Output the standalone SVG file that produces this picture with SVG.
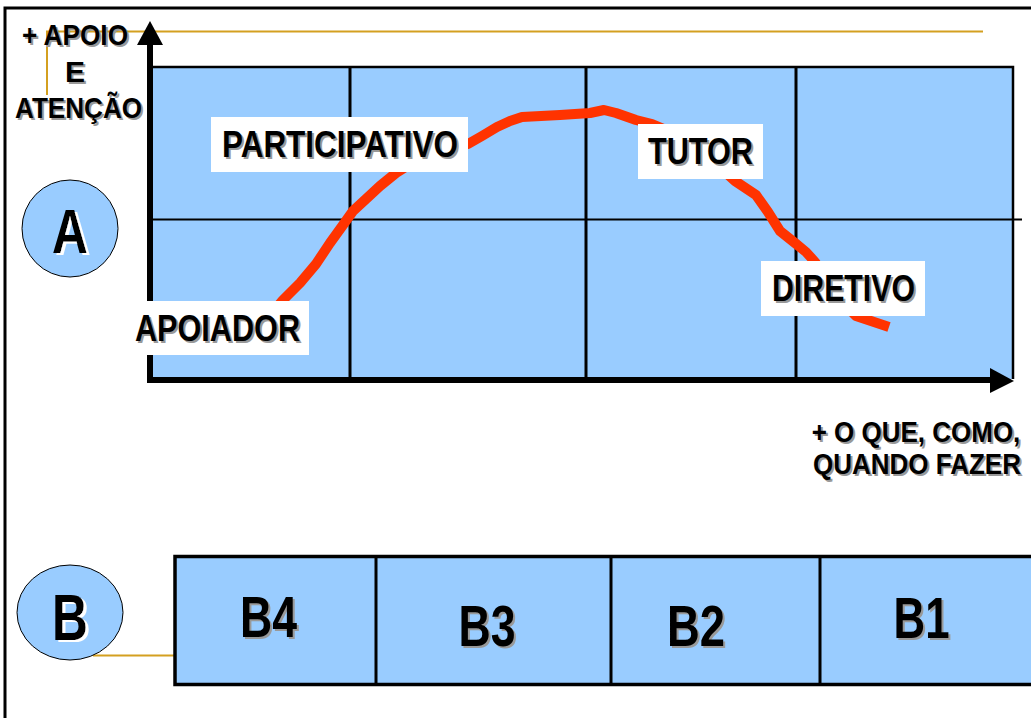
<svg xmlns="http://www.w3.org/2000/svg" width="1031" height="718" viewBox="0 0 1031 718">
<defs>
<filter id="ws" x="-20%" y="-20%" width="150%" height="150%">
<feDropShadow dx="3" dy="2" stdDeviation="0.3" flood-color="#ffffff" flood-opacity="1"/>
</filter>
</defs>
<style>
.t{font-family:"Liberation Sans",Arial,sans-serif;font-weight:bold;text-anchor:middle;fill:#000}
.sh{fill:#999999}
.w{filter:url(#ws)}
.gold{stroke:#D4A020;stroke-width:2;fill:none}
.grid{stroke:#000;fill:none}
.box{fill:#fff}
.blue{fill:#99CCFF}
</style>
<rect width="1031" height="718" fill="#fff"/>
<g id="frame">
<path d="M5,718 V8 H1031" stroke="#000" stroke-width="3" fill="none"/>
</g>
<g id="guides">
<path class="gold" d="M47,95 V31.5 H983"/>
<path class="gold" d="M93,655.5 H175"/>
</g>
<g id="chart">
<rect class="blue" x="152" y="67" width="861" height="312"/>
<path class="grid" stroke-width="2.5" d="M150,67 H1013 V379"/>
<path class="grid" stroke-width="2" d="M150,219.5 H1022"/>
<path class="grid" stroke-width="3" d="M350,67 V379 M586,67 V379 M796,67 V379"/>
</g>
<g id="curve">
<polyline points="268,318 283,300 300,283 316,264 330,243 343,225 353,211 366,199 380,186 396,173 415,161 440,152 468,144 482,136 497,127 510,121 522,117 560,115 590,113 604,110 616,113 636,120 652,124 690,140 735,181 756,195 768,212 780,231 795,243 806,252 815,262 840,300 856,316 889,327" fill="none" stroke="#FF3300" stroke-width="10" stroke-linejoin="round"/>
</g>
<g id="axes">
<line x1="150" y1="40" x2="150" y2="383" stroke="#000" stroke-width="6"/>
<polygon points="150,21 163,45 137,45" fill="#000"/>
<line x1="147" y1="380" x2="992" y2="380" stroke="#000" stroke-width="6"/>
<polygon points="1014,381 990,368 990,393" fill="#000"/>
</g>
<g id="label-participativo">
<rect class="box" x="211" y="117" width="257" height="55"/>
<text class="t sh" x="342" y="159" font-size="36" textLength="236" lengthAdjust="spacingAndGlyphs">PARTICIPATIVO</text>
<text class="t" x="340" y="157" font-size="36" textLength="236" lengthAdjust="spacingAndGlyphs">PARTICIPATIVO</text>
</g>
<g id="label-tutor">
<rect class="box" x="638" y="124" width="125" height="55"/>
<text class="t sh" x="702.5" y="166" font-size="36" textLength="105" lengthAdjust="spacingAndGlyphs">TUTOR</text>
<text class="t" x="700.5" y="164" font-size="36" textLength="105" lengthAdjust="spacingAndGlyphs">TUTOR</text>
</g>
<g id="label-diretivo">
<rect class="box" x="761" y="261" width="164" height="55"/>
<text class="t sh" x="845.5" y="303" font-size="36" textLength="143" lengthAdjust="spacingAndGlyphs">DIRETIVO</text>
<text class="t" x="843.5" y="301" font-size="36" textLength="143" lengthAdjust="spacingAndGlyphs">DIRETIVO</text>
</g>
<g id="label-apoiador">
<rect class="box" x="128" y="301" width="181" height="54"/>
<text class="t sh" x="219.5" y="343" font-size="36" textLength="165" lengthAdjust="spacingAndGlyphs">APOIADOR</text>
<text class="t" x="217.5" y="341" font-size="36" textLength="165" lengthAdjust="spacingAndGlyphs">APOIADOR</text>
</g>
<g id="y-label">
<text class="t sh" x="77" y="47" font-size="30" textLength="106" lengthAdjust="spacingAndGlyphs">+ APOIO</text>
<text class="t" x="75" y="45" font-size="30" textLength="106" lengthAdjust="spacingAndGlyphs">+ APOIO</text>
<text class="t sh" x="77" y="84" font-size="30">E</text>
<text class="t" x="75" y="82" font-size="30">E</text>
<text class="t sh" x="80.5" y="120" font-size="30" textLength="127" lengthAdjust="spacingAndGlyphs">ATENÇÃO</text>
<text class="t" x="78.5" y="118" font-size="30" textLength="127" lengthAdjust="spacingAndGlyphs">ATENÇÃO</text>
</g>
<g id="x-label">
<text class="t sh" transform="translate(918,444) scale(1,1.12)" x="0" y="0" font-size="26">+ O QUE, COMO,</text>
<text class="t" transform="translate(916,442) scale(1,1.12)" x="0" y="0" font-size="26">+ O QUE, COMO,</text>
<text class="t sh" transform="translate(919,476) scale(1,1.12)" x="0" y="0" font-size="26">QUANDO FAZER</text>
<text class="t" transform="translate(917,474) scale(1,1.12)" x="0" y="0" font-size="26">QUANDO FAZER</text>
</g>
<g id="circle-a">
<ellipse class="blue" cx="70" cy="228.5" rx="48" ry="48.5" stroke="#000" stroke-width="1"/>
<text class="t w" x="70" y="253" font-size="63" textLength="36" lengthAdjust="spacingAndGlyphs">A</text>
</g>
<g id="circle-b">
<ellipse class="blue" cx="70" cy="612.5" rx="53" ry="47.5" stroke="#000" stroke-width="1"/>
<text class="t w" x="70" y="640" font-size="65" textLength="36" lengthAdjust="spacingAndGlyphs">B</text>
</g>
<g id="bar-b">
<rect class="blue" x="175" y="556.5" width="870" height="128" stroke="#000" stroke-width="3.5"/>
<path class="grid" stroke-width="3" d="M376,556 V685 M611,556 V685 M820,556 V685"/>
</g>
<g id="b4">
<text class="t sh" x="270.5" y="639" font-size="58" textLength="57" lengthAdjust="spacingAndGlyphs">B4</text>
<text class="t" x="268.5" y="637" font-size="58" textLength="57" lengthAdjust="spacingAndGlyphs">B4</text>
</g>
<g id="b3">
<text class="t sh" x="489" y="648" font-size="58" textLength="57" lengthAdjust="spacingAndGlyphs">B3</text>
<text class="t" x="487" y="646" font-size="58" textLength="57" lengthAdjust="spacingAndGlyphs">B3</text>
</g>
<g id="b2">
<text class="t sh" x="698" y="648" font-size="58" textLength="58" lengthAdjust="spacingAndGlyphs">B2</text>
<text class="t" x="696" y="646" font-size="58" textLength="58" lengthAdjust="spacingAndGlyphs">B2</text>
</g>
<g id="b1">
<text class="t sh" x="923.5" y="640" font-size="58" textLength="56" lengthAdjust="spacingAndGlyphs">B1</text>
<text class="t" x="921.5" y="638" font-size="58" textLength="56" lengthAdjust="spacingAndGlyphs">B1</text>
</g>
</svg>
